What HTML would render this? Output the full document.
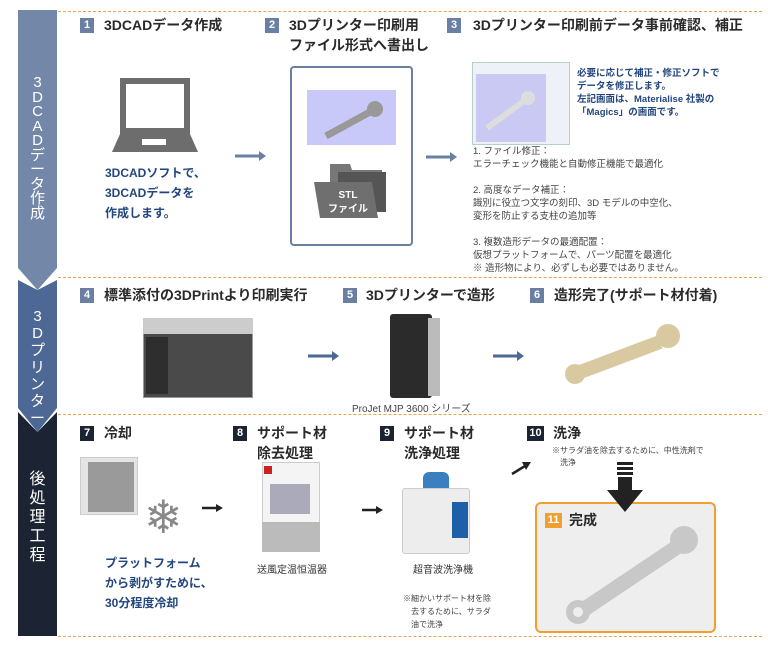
<!DOCTYPE html>
<html><head><meta charset="utf-8"><style>
*{margin:0;padding:0;box-sizing:border-box}
body{width:768px;height:648px;background:#fff;position:relative;overflow:hidden;font-family:"Liberation Sans","Noto Sans CJK JP",sans-serif;color:#333}
.a{position:absolute}
.t{position:absolute;font-size:14px;font-weight:bold;line-height:20px;white-space:nowrap;color:#2a2a2a}
.n{position:absolute;width:14px;height:15px;background:#6a7fa3;color:#fff;font-size:11px;font-weight:bold;text-align:center;line-height:15px}
.d{position:absolute;left:58px;width:704px;border-top:1.5px dashed #e8a54a}
.bl{position:absolute;font-size:12px;font-weight:bold;color:#23467e;line-height:20px;white-space:nowrap}
.g{position:absolute;font-size:9.5px;color:#444;line-height:13px;white-space:nowrap}
.vt{position:absolute;left:18px;width:39px;color:#fff;font-size:15px;text-align:center;line-height:17px}
</style></head><body>
<svg class="a" style="left:0;top:0" width="60" height="648">
<polygon points="18,10 57,10 57,268 37.5,290 18,268" fill="#7387a8"/>
<polygon points="18,280 37.5,290 57,280 57,408 37.5,432 18,408" fill="#4d6894"/>
<polygon points="18,412 37.5,432 57,412 57,636 18,636" fill="#1c2433"/>
</svg>
<div class="vt" style="top:76px;line-height:14.5px">3<br>D<br>C<br>A<br>D<br>デ<br>ー<br>タ<br>作<br>成</div>
<div class="vt" style="top:308px">3<br>D<br>プ<br>リ<br>ン<br>タ<br>ー</div>
<div class="vt" style="top:470px;font-size:16px;line-height:19px">後<br>処<br>理<br>工<br>程</div>
<div class="d" style="top:11px"></div><div class="d" style="top:277px"></div><div class="d" style="top:414px"></div><div class="d" style="top:636px"></div>

<div class="n" style="left:80px;top:18px">1</div><div class="t" style="left:104px;top:15px">3DCADデータ作成</div>
<div class="n" style="left:265px;top:18px">2</div><div class="t" style="left:289px;top:15px">3Dプリンター印刷用<br>ファイル形式へ書出し</div>
<div class="n" style="left:447px;top:18px">3</div><div class="t" style="left:473px;top:15px">3Dプリンター印刷前データ事前確認、補正</div>
<svg class="a" style="left:110px;top:76px" width="92" height="80"><rect x="10" y="2" width="70" height="56" fill="#6d6d6d"/><rect x="16" y="8" width="58" height="44" fill="#fff"/><polygon points="10,58 80,58 88,76 2,76" fill="#6d6d6d"/><rect x="32" y="63" width="24" height="6" fill="#fff"/></svg>
<div class="bl" style="left:105px;top:163px">3DCADソフトで、<br>3DCADデータを<br>作成します。</div>
<svg class="a" style="left:235px;top:150px" width="32" height="12"><line x1="0" y1="6" x2="26" y2="6" stroke="#6a7fa3" stroke-width="3"/><polygon points="24,1 31,6 24,11" fill="#6a7fa3"/></svg>
<div class="a" style="left:290px;top:66px;width:123px;height:180px;border:2px solid #6a7fa3;border-radius:4px"></div>
<div class="a" style="left:307px;top:90px;width:89px;height:55px;background:#c9c9f9"></div>
<svg class="a" style="left:318px;top:98px" width="70" height="45"><line x1="8" y1="38" x2="52" y2="14" stroke="#999" stroke-width="7"/><circle cx="57" cy="11" r="8" fill="#999"/></svg>
<svg class="a" style="left:312px;top:160px" width="80" height="62"><polygon points="18,4 38,4 40,10 70,10 70,48 18,48" fill="#777"/><polygon points="26,12 74,12 74,52 26,52" fill="#555"/><polygon points="2,22 60,22 66,58 8,58" fill="#6f6f6f"/><text x="36" y="38" fill="#fff" font-size="10" font-weight="bold" text-anchor="middle">STL</text><text x="36" y="52" fill="#fff" font-size="10" font-weight="bold" text-anchor="middle">ファイル</text></svg>
<svg class="a" style="left:426px;top:151px" width="32" height="12"><line x1="0" y1="6" x2="26" y2="6" stroke="#6a7fa3" stroke-width="3"/><polygon points="24,1 31,6 24,11" fill="#6a7fa3"/></svg>
<div class="a" style="left:472px;top:62px;width:98px;height:83px;background:#eef2f8;border:1px solid #bcc"></div>
<div class="a" style="left:476px;top:74px;width:70px;height:68px;background:#c9c9f4"></div>
<svg class="a" style="left:482px;top:86px" width="60" height="50"><line x1="5" y1="42" x2="42" y2="15" stroke="#ddd" stroke-width="6"/><circle cx="46" cy="12" r="7" fill="#ddd"/></svg>
<div class="bl" style="left:577px;top:67px;font-size:9.5px;line-height:13px">必要に応じて補正・修正ソフトで<br>データを修正します。<br>左記画面は、Materialise 社製の<br>「Magics」の画面です。</div>
<div class="g" style="left:473px;top:145px">1. ファイル修正：<br>エラーチェック機能と自動修正機能で最適化<br><br>2. 高度なデータ補正：<br>識別に役立つ文字の刻印、3D モデルの中空化、<br>変形を防止する支柱の追加等<br><br>3. 複数造形データの最適配置：<br>仮想プラットフォームで、パーツ配置を最適化<br>※ 造形物により、必ずしも必要ではありません。</div>

<div class="n" style="left:80px;top:288px">4</div><div class="t" style="left:104px;top:285px">標準添付の3DPrintより印刷実行</div>
<div class="n" style="left:343px;top:288px">5</div><div class="t" style="left:366px;top:285px">3Dプリンターで造形</div>
<div class="n" style="left:530px;top:288px">6</div><div class="t" style="left:554px;top:285px">造形完了(サポート材付着)</div>
<div class="a" style="left:143px;top:318px;width:110px;height:80px;background:#4a4a4a;border:1px solid #999"></div>
<div class="a" style="left:143px;top:318px;width:110px;height:16px;background:#ccc"></div>
<div class="a" style="left:146px;top:337px;width:22px;height:57px;background:#2e2e2e"></div>
<svg class="a" style="left:308px;top:350px" width="32" height="12"><line x1="0" y1="6" x2="26" y2="6" stroke="#4d6894" stroke-width="3"/><polygon points="24,1 31,6 24,11" fill="#4d6894"/></svg>
<div class="a" style="left:390px;top:314px;width:42px;height:84px;background:#2b2b2b;border-radius:3px"></div>
<div class="a" style="left:428px;top:318px;width:12px;height:78px;background:#bbb"></div>
<svg class="a" style="left:493px;top:350px" width="32" height="12"><line x1="0" y1="6" x2="26" y2="6" stroke="#4d6894" stroke-width="3"/><polygon points="24,1 31,6 24,11" fill="#4d6894"/></svg>
<svg class="a" style="left:560px;top:322px" width="130" height="66"><line x1="15" y1="52" x2="100" y2="20" stroke="#d9c9a0" stroke-width="14"/><circle cx="15" cy="52" r="10" fill="#d9c9a0"/><circle cx="108" cy="14" r="12" fill="#d9c9a0"/></svg>
<div class="a" style="left:352px;top:400px;font-size:10px;color:#444;white-space:nowrap">ProJet MJP 3600 シリーズ</div>

<div class="n" style="left:80px;top:426px;background:#1c2433">7</div><div class="t" style="left:104px;top:423px">冷却</div>
<div class="n" style="left:233px;top:426px;background:#1c2433">8</div><div class="t" style="left:257px;top:423px">サポート材<br>除去処理</div>
<div class="n" style="left:380px;top:426px;background:#1c2433">9</div><div class="t" style="left:404px;top:423px">サポート材<br>洗浄処理</div>
<div class="n" style="left:527px;top:426px;background:#1c2433;width:17px">10</div><div class="t" style="left:553px;top:423px">洗浄</div>
<div class="a" style="left:80px;top:457px;width:58px;height:58px;background:#e4e4e4;border:1px solid #ccc"></div>
<div class="a" style="left:88px;top:462px;width:46px;height:50px;background:#9a9a9a"></div>
<div class="a" style="left:144px;top:490px;font-size:46px;color:#888;line-height:54px">❄</div>
<div class="bl" style="left:105px;top:553px">プラットフォーム<br>から剥がすために、<br>30分程度冷却</div>
<svg class="a" style="left:202px;top:503px" width="22" height="10"><line x1="0" y1="5" x2="15" y2="5" stroke="#222" stroke-width="2.5"/><polygon points="14,1 21,5 14,9" fill="#222"/></svg>
<div class="a" style="left:262px;top:462px;width:58px;height:90px;background:#f4f4f4;border:1px solid #ccc"></div>
<div class="a" style="left:270px;top:484px;width:40px;height:30px;background:#aab"></div>
<div class="a" style="left:262px;top:522px;width:58px;height:30px;background:#bbb"></div>
<div class="a" style="left:264px;top:466px;width:8px;height:8px;background:#c22"></div>
<div class="a" style="left:257px;top:561px;font-size:10px;color:#333">送風定温恒温器</div>
<svg class="a" style="left:362px;top:505px" width="22" height="10"><line x1="0" y1="5" x2="15" y2="5" stroke="#222" stroke-width="2.5"/><polygon points="14,1 21,5 14,9" fill="#222"/></svg>
<div class="a" style="left:402px;top:488px;width:68px;height:66px;background:#ededed;border:1px solid #ccc;border-radius:3px"></div>
<div class="a" style="left:423px;top:472px;width:26px;height:16px;background:#3a7fc0;border-radius:6px 6px 0 0"></div>
<div class="a" style="left:452px;top:502px;width:16px;height:36px;background:#1d5fa8"></div>
<div class="a" style="left:413px;top:561px;font-size:10px;color:#333">超音波洗浄機</div>
<div class="a" style="left:403px;top:592px;font-size:8px;color:#444;line-height:13px;white-space:nowrap">※細かいサポート材を除<br>　去するために、サラダ<br>　油で洗浄</div>
<svg class="a" style="left:510px;top:460px" width="22" height="16"><line x1="2" y1="14" x2="15" y2="6" stroke="#222" stroke-width="2.5"/><polygon points="12,2 21,2 16,10" fill="#222"/></svg>
<div class="a" style="left:552px;top:445px;font-size:8px;color:#444;line-height:12px;white-space:nowrap">※サラダ油を除去するために、中性洗剤で<br>　洗浄</div>
<div class="a" style="left:535px;top:502px;width:181px;height:131px;border:2px solid #f0a030;border-radius:6px;background:#eeeeee"></div>
<div class="n" style="left:545px;top:513px;background:#f0a030;width:17px">11</div><div class="t" style="left:569px;top:510px">完成</div>
<svg class="a" style="left:560px;top:520px" width="150" height="110"><line x1="20" y1="92" x2="120" y2="25" stroke="#c8c8c8" stroke-width="15"/><circle cx="18" cy="92" r="12" fill="#c8c8c8"/><circle cx="18" cy="92" r="5" fill="#eee"/><circle cx="124" cy="20" r="14" fill="#c8c8c8"/></svg>
<svg class="a" style="left:605px;top:462px" width="40" height="52"><rect x="12" y="0" width="16" height="3" fill="#222"/><rect x="12" y="5" width="16" height="3" fill="#222"/><rect x="12" y="10" width="16" height="3" fill="#222"/><rect x="13" y="15" width="14" height="14" fill="#222"/><polygon points="2,28 38,28 20,50" fill="#222"/></svg>
</body></html>
